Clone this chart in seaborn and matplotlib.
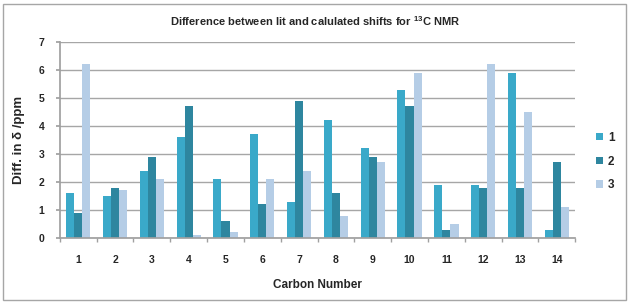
import matplotlib
matplotlib.use("Agg")
import matplotlib.pyplot as plt
import seaborn as sns
import pandas as pd
from matplotlib.patches import Rectangle

carbons = [str(i) for i in range(1, 15)]
series_names = ["1", "2", "3"]
s1 = [1.6, 1.5, 2.4, 3.6, 2.1, 3.7, 1.3, 4.2, 3.2, 5.3, 1.9, 1.9, 5.9, 0.3]
s2 = [0.9, 1.8, 2.9, 4.7, 0.6, 1.2, 4.9, 1.6, 2.9, 4.7, 0.3, 1.8, 1.8, 2.7]
s3 = [6.2, 1.7, 2.1, 0.1, 0.2, 2.1, 2.4, 0.8, 2.7, 5.9, 0.5, 6.2, 4.5, 1.1]

rows = []
for name, vals in zip(series_names, [s1, s2, s3]):
    for c, v in zip(carbons, vals):
        rows.append({"Carbon": c, "Series": name, "Diff": v})
df = pd.DataFrame(rows)

sns.set_theme(style="white")
plt.rcParams["font.family"] = ["Liberation Sans", "DejaVu Sans"]
plt.rcParams["mathtext.fontset"] = "custom"
plt.rcParams["mathtext.bf"] = "Liberation Sans:bold"

colors = ["#3AA9C9", "#2E869F", "#B5CDE6"]

fig = plt.figure(figsize=(6.3, 3.04), dpi=100)
ax = fig.add_axes([0.095, 0.217, 0.818, 0.645])

sns.barplot(data=df, x="Carbon", y="Diff", hue="Series", palette=colors,
            width=0.66, gap=0.0, ax=ax, saturation=1, errorbar=None,
            linewidth=0)

ax.set_ylim(0, 7)
ax.set_xlim(-0.5, 13.5)
ax.set_yticks(range(0, 8))
ax.yaxis.grid(True, color="#A6A6A6", linewidth=1)
ax.set_axisbelow(True)
for s in ["top", "right"]:
    ax.spines[s].set_visible(False)
ax.spines["left"].set_color("#A0A0A0")
ax.spines["bottom"].set_color("#A0A0A0")
ax.tick_params(axis="y", length=3, color="#A0A0A0", labelsize=7.5, pad=8, left=True)
ax.tick_params(axis="x", length=0, labelsize=7.5, pad=12)
ax.set_xticks([i + 0.5 for i in range(-1, 14)], minor=True)
ax.tick_params(axis="x", which="minor", length=3, color="#A0A0A0", bottom=True)
for lab in ax.get_xticklabels() + ax.get_yticklabels():
    lab.set_fontweight("bold")

ax.set_xlabel("Carbon Number", fontsize=8.5, fontweight="bold", labelpad=10)
ax.set_ylabel("Diff. in δ /ppm", fontsize=9.5, fontweight="bold", labelpad=10)
fig.text(0.5, 0.932, r"Difference between lit and calulated shifts for $\mathbf{^{13}}$C NMR",
         ha="center", va="center", fontsize=8, fontweight="bold")

leg = ax.legend(loc="center left", bbox_to_anchor=(1.02, 0.39), frameon=False,
                fontsize=8.5, handlelength=0.6, handleheight=0.6, handletextpad=0.4,
                labelspacing=1.0, title=None)
for t in leg.get_texts():
    t.set_fontweight("bold")

fig.patches.append(Rectangle((0.004, 0.012), 0.99, 0.975, transform=fig.transFigure,
                             fill=False, edgecolor="#A6A6A6", linewidth=1))

fig.savefig("out.png", dpi=100)
